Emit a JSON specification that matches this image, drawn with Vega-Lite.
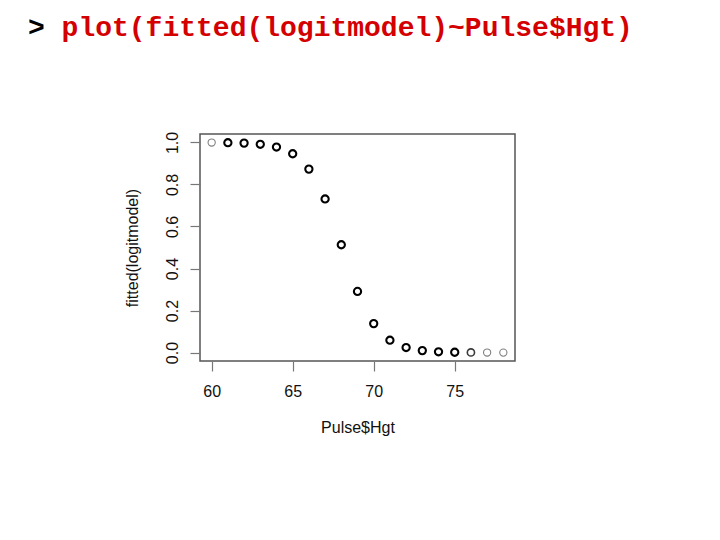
{
  "$schema": "https://vega.github.io/schema/vega-lite/v6.json",
  "autosize": {"type": "none"},
  "width": 315,
  "height": 227,
  "padding": {"left": 200, "top": 134, "right": 205, "bottom": 179},
  "background": "white",
  "title": {
    "text": ">",
    "subtitle": "\u200b\u00a0\u00a0plot(fitted(logitmodel)~Pulse$Hgt)",
    "anchor": "start",
    "frame": "group",
    "dx": -172,
    "dy": -89,
    "font": "Liberation Mono",
    "fontSize": 28,
    "fontWeight": "bold",
    "color": "black",
    "subtitleFont": "Liberation Mono",
    "subtitleFontSize": 28,
    "subtitleFontWeight": "bold",
    "subtitleColor": "#d40000",
    "subtitlePadding": -28,
    "offset": 0
  },
  "config": {
    "view": {"stroke": "#555555", "strokeWidth": 1.5},
    "axis": {
      "labelFont": "Liberation Sans",
      "titleFont": "Liberation Sans",
      "labelFontSize": 16,
      "titleFontSize": 16,
      "titleFontWeight": "normal",
      "labelColor": "#111111",
      "titleColor": "#111111",
      "grid": false,
      "domain": false,
      "tickColor": "#777777",
      "tickWidth": 1.2,
      "tickSize": 10
    }
  },
  "data": {
    "values": [
      {"Hgt": 60, "fitted": 0.9994, "n": 1},
      {"Hgt": 61, "fitted": 0.9986, "n": 3},
      {"Hgt": 62, "fitted": 0.9966, "n": 3},
      {"Hgt": 63, "fitted": 0.991, "n": 3},
      {"Hgt": 64, "fitted": 0.978, "n": 3},
      {"Hgt": 65, "fitted": 0.946, "n": 3},
      {"Hgt": 66, "fitted": 0.873, "n": 3},
      {"Hgt": 67, "fitted": 0.731, "n": 3},
      {"Hgt": 68, "fitted": 0.513, "n": 3},
      {"Hgt": 69, "fitted": 0.291, "n": 3},
      {"Hgt": 70, "fitted": 0.138, "n": 3},
      {"Hgt": 71, "fitted": 0.059, "n": 3},
      {"Hgt": 72, "fitted": 0.024, "n": 3},
      {"Hgt": 73, "fitted": 0.0095, "n": 3},
      {"Hgt": 74, "fitted": 0.0037, "n": 3},
      {"Hgt": 75, "fitted": 0.0015, "n": 3},
      {"Hgt": 76, "fitted": 0.0006, "n": 2},
      {"Hgt": 77, "fitted": 0.00023, "n": 1},
      {"Hgt": 78, "fitted": 0.0001, "n": 1}
    ]
  },
  "mark": {"type": "point", "shape": "circle", "filled": false, "size": 52, "opacity": 1},
  "encoding": {
    "x": {
      "field": "Hgt",
      "type": "quantitative",
      "title": "Pulse$Hgt",
      "scale": {"domain": [59.28, 78.72], "nice": false, "zero": false},
      "axis": {"values": [60, 65, 70, 75], "labelPadding": 12, "titlePadding": 20, "labelFlush": false}
    },
    "y": {
      "field": "fitted",
      "type": "quantitative",
      "title": "fitted(logitmodel)",
      "scale": {"domain": [-0.04, 1.04], "nice": false, "zero": false},
      "axis": {
        "values": [0, 0.2, 0.4, 0.6, 0.8, 1.0],
        "format": ".1f",
        "labelAngle": -90,
        "labelAlign": "center",
        "labelBaseline": "alphabetic",
        "labelPadding": 13,
        "titlePadding": 24,
        "labelFlush": false
      }
    },
    "stroke": {
      "field": "n",
      "type": "quantitative",
      "scale": {"type": "threshold", "domain": [2, 3], "range": ["#808080", "#3a3a3a", "#000000"]},
      "legend": null
    },
    "strokeWidth": {
      "field": "n",
      "type": "quantitative",
      "scale": {"type": "threshold", "domain": [2, 3], "range": [1.1, 1.6, 2.1]},
      "legend": null
    }
  }
}
